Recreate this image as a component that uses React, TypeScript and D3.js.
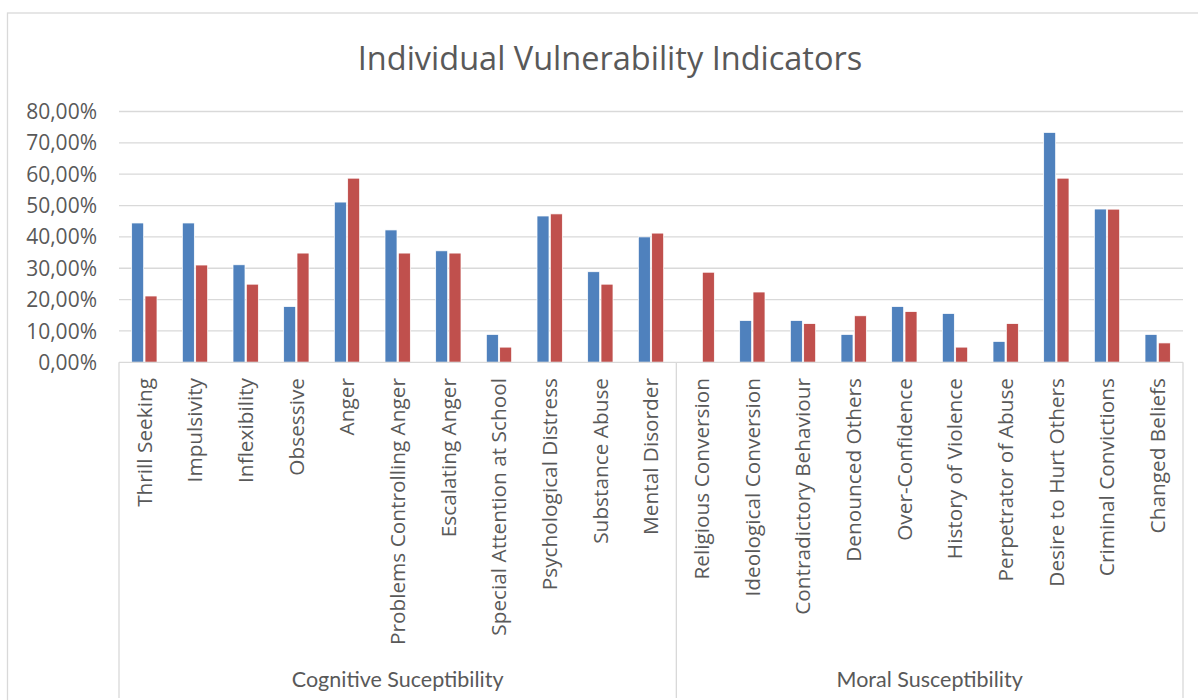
import React, { useEffect, useRef } from 'react';
import * as d3 from 'd3';

const categories = [
  'Thrill Seeking', 'Impulsivity', 'Inflexibility', 'Obsessive', 'Anger',
  'Problems Controlling Anger', 'Escalating Anger', 'Special Attention at School',
  'Psychological Distress', 'Substance Abuse', 'Mental Disorder',
  'Religious Conversion', 'Ideological Conversion', 'Contradictory Behaviour',
  'Denounced Others', 'Over-Confidence', 'History of Violence', 'Perpetrator of Abuse',
  'Desire to Hurt Others', 'Criminal Convictions', 'Changed Beliefs',
];

const groups = [
  { name: 'Cognitive Suceptibility', from: 0, to: 10 },
  { name: 'Moral Susceptibility', from: 11, to: 20 },
];

const seriesBlue = [
  0.4444, 0.4444, 0.3111, 0.1778, 0.5111, 0.4222, 0.3556, 0.0889, 0.4667, 0.2889, 0.4,
  0, 0.1333, 0.1333, 0.0889, 0.1778, 0.1556, 0.0667, 0.7333, 0.4889, 0.0889,
];
const seriesRed = [
  0.2115, 0.3103, 0.2492, 0.3484, 0.5873, 0.3484, 0.3484, 0.0484, 0.4734, 0.2492, 0.4121,
  0.2873, 0.2242, 0.1234, 0.1484, 0.1618, 0.0484, 0.1234, 0.5873, 0.4885, 0.0618,
];

const yTicks = [0, 0.1, 0.2, 0.3, 0.4, 0.5, 0.6, 0.7, 0.8];
const seriesColors = ['#4F81BD', '#C0504D'];

const W = 1198;
const H = 700;

const App: React.FC = () => {
  const svgRef = useRef<SVGSVGElement>(null);

  useEffect(() => {
    if (!svgRef.current) return;
    const svg = d3.select(svgRef.current);
    svg.selectAll('*').remove();

    const plot = { left: 119, right: 1183, top: 111.5, bottom: 362.3 };

    // chart area border
    svg.append('rect')
      .attr('x', 7.5).attr('y', 13)
      .attr('width', 1205).attr('height', 720)
      .attr('fill', '#fff').attr('stroke', '#d9d9d9').attr('stroke-width', 1.3);

    svg.append('text')
      .attr('x', 610).attr('y', 70)
      .attr('text-anchor', 'middle')
      .attr('font-family', 'Open Sans')
      .attr('font-size', 32.5)
      .attr('fill', '#595959')
      .text('Individual Vulnerability Indicators');

    const y = d3.scaleLinear().domain([0, 0.8]).range([plot.bottom, plot.top]);
    const x0 = d3.scaleBand<string>().domain(categories).range([plot.left, plot.right]).padding(0);
    const bw = x0.bandwidth();
    const x1 = d3.scaleBand<number>().domain([0, 1]).range([bw * 0.25, bw * 0.75]).paddingInner(0.1);

    const fmt = (v: number) => d3.format('.2f')(v * 100).replace('.', ',') + '%';

    // gridlines
    svg.append('g').selectAll('line')
      .data(yTicks.slice(1))
      .enter().append('line')
      .attr('x1', plot.left).attr('x2', plot.right)
      .attr('y1', d => y(d)).attr('y2', d => y(d))
      .attr('stroke', '#d9d9d9').attr('stroke-width', 1.3);

    svg.append('g').selectAll('text')
      .data(yTicks)
      .enter().append('text')
      .attr('x', 97).attr('y', d => y(d))
      .attr('dy', '0.36em')
      .attr('text-anchor', 'end')
      .attr('font-family', 'Open Sans')
      .attr('font-size', 21)
      .attr('fill', '#595959')
      .text(d => fmt(d));

    // bars
    const series = [seriesBlue, seriesRed];
    series.forEach((vals, s) => {
      svg.append('g').selectAll('rect')
        .data(vals)
        .enter().append('rect')
        .attr('x', (_, i) => (x0(categories[i]) as number) + (x1(s) as number))
        .attr('width', x1.bandwidth())
        .attr('y', d => y(d))
        .attr('height', d => y(0) - y(d))
        .attr('fill', seriesColors[s])
        .attr('stroke', '#fff')
        .attr('stroke-width', d => (d > 0 ? 0.75 : 0));
    });

    // category axis
    svg.append('line')
      .attr('x1', plot.left).attr('x2', plot.right)
      .attr('y1', plot.bottom).attr('y2', plot.bottom)
      .attr('stroke', '#d9d9d9').attr('stroke-width', 1.3);

    const seps = [plot.left, x0(categories[groups[1].from]) as number, plot.right];
    svg.append('g').selectAll('line')
      .data(seps)
      .enter().append('line')
      .attr('x1', d => d).attr('x2', d => d)
      .attr('y1', plot.bottom).attr('y2', 698)
      .attr('stroke', '#d9d9d9').attr('stroke-width', 1.3);

    svg.append('g').selectAll('text')
      .data(categories)
      .enter().append('text')
      .attr('transform', d => `translate(${(x0(d) as number) + bw / 2},378) rotate(-90)`)
      .attr('dy', '0.35em')
      .attr('text-anchor', 'end')
      .attr('font-family', 'Open Sans')
      .attr('font-size', 20.8)
      .attr('fill', '#595959')
      .text(d => d);

    svg.append('g').selectAll('text')
      .data(groups)
      .enter().append('text')
      .attr('x', g => ((x0(categories[g.from]) as number) + (x0(categories[g.to]) as number) + bw) / 2)
      .attr('y', 687)
      .attr('text-anchor', 'middle')
      .attr('font-family', 'Lato')
      .attr('font-size', 21.5)
      .attr('fill', '#595959')
      .text(g => g.name);
  }, []);

  return (
    <svg
      ref={svgRef}
      width={W}
      height={H}
      style={{ position: 'absolute', left: 0, top: 0, display: 'block', background: '#fff' }}
    />
  );
};

export default App;
